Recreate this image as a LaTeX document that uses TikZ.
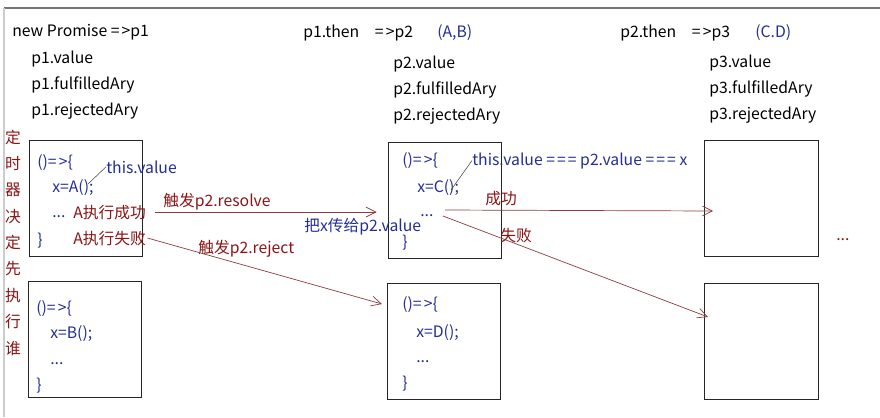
\documentclass[tikz,border=0pt]{standalone}
\usepackage{fontspec}
\setmainfont{Noto Sans CJK SC}
\usetikzlibrary{arrows.meta}
\definecolor{codeblue}{RGB}{35,45,150}
\definecolor{notered}{RGB}{140,20,20}
\definecolor{linkred}{RGB}{140,60,65}

\newcommand{\eqs}{=\kern1.5pt=\kern1.5pt=}
\newcommand{\arr}{=\kern1.5pt>}

\tikzset{
  lbl/.style={anchor=base west, inner sep=0pt, font=\fontsize{11.2}{13}\selectfont},
  code/.style={lbl, text=codeblue},
  note/.style={lbl, text=notered},
  codebox/.style={draw=black!85, line width=0.7pt, minimum width=2.83cm, minimum height=2.9cm, inner sep=0pt},
  link/.style={-{Straight Barb[length=7pt,width=7pt]}, draw=linkred, line width=0.5pt},
  ptr/.style={draw=black!70, line width=0.4pt},
}

\begin{document}
\begin{tikzpicture}[x=0.025cm, y=-0.025cm]
\useasboundingbox (0,0) rectangle (880,417);
\draw [black!55, line width=1pt] (4,8) -- (880,8);
\draw [black!20, line width=0.8pt] (4,8) -- (4,417);

% headers
\node[lbl] (p1head) at (12,36) {new Promise \arr p1};
\node[lbl] (p1val) at (31,63) {p1.value};
\node[lbl] (p1ful) at (31,89) {p1.fulfilledAry};
\node[lbl] (p1rej) at (31,115) {p1.rejectedAry};

\node[lbl] (p2head) at (303,37) {p1.then\hspace{1em}\arr p2};
\node[code] (p2args) at (437,37) {(A,B)};
\node[lbl] (p2val) at (393,68) {p2.value};
\node[lbl] (p2ful) at (393,94) {p2.fulfilledAry};
\node[lbl] (p2rej) at (393,120) {p2.rejectedAry};

\node[lbl] (p3head) at (620,37) {p2.then\hspace{1em}\arr p3};
\node[code] (p3args) at (755,37) {(C.D)};
\node[lbl] (p3val) at (709,67) {p3.value};
\node[lbl] (p3ful) at (709,93) {p3.fulfilledAry};
\node[lbl] (p3rej) at (709,119) {p3.rejectedAry};

% timer note
\foreach \c [count=\i from 0] in {定,时,器,决,定,先,执,行,谁}
  \node[text=notered, inner sep=0pt, font=\fontsize{11.2}{13}\selectfont] (timer\i) at (13,137+26.4*\i) {\c};

% boxes
\node[codebox] (boxA) at (86,198) {};
\node[codebox] (boxB) at (85,339) {};
\node[codebox] (boxC) at (445,200) {};
\node[codebox] (boxD) at (444,341) {};
\node[codebox] (boxE) at (761.5,198.5) {};
\node[codebox] (boxF) at (761.5,341) {};

% box A
\node[code] (a1) at (37,167) {()\arr\{};
\node[code] (a2) at (52,192) {x=A();};
\node[code] (a3) at (52,217) {...};
\node[code] (a4) at (37,245) {\}};
\node[code] (thisA) at (106,173) {this.value};
\coordinate (ptrA) at (88,184);
\draw[ptr] (ptrA) -- (thisA.west);
\node[note] (succA) at (73,218) {A执行成功};
\node[note] (failA) at (73,244) {A执行失败};

% box B
\node[code] (b1) at (36,313) {()\arr\{};
\node[code] (b2) at (50,338) {x=B();};
\node[code] (b3) at (50,364) {...};
\node[code] (b4) at (36,390) {\}};

% box C
\node[code] (c1) at (402,165) {()\arr\{};
\node[code] (c2) at (417,192) {x=C();};
\node[code] (c3) at (420,216) {...};
\node[code] (c4) at (402,247) {\}};
\node[code] (thisC) at (472,165) {this.value \eqs{} p2.value \eqs{} x};
\coordinate (ptrC) at (451,190);
\draw[ptr] (ptrC) -- (thisC.west);

% box D
\node[code] (d1) at (402,309) {()\arr\{};
\node[code] (d2) at (416,337) {x=D();};
\node[code] (d3) at (416,362) {...};
\node[code] (d4) at (402,388) {\}};

% links
\node[note] (resolveA) at (163,206) {触发p2.resolve};
\node[code] (passX) at (304,231) {把x传给p2.value};
\node[note] (rejectA) at (198,253) {触发p2.reject};
\coordinate (rejEnd) at (382,304);
\draw[link] ([xshift=6pt]succA.east) -- (succA.east -| boxC.west) [shorten >=8pt];
\draw[link] ([xshift=1pt]failA.east) -- (rejEnd);

\node[note] (okC) at (485,204) {成功};
\node[note] (koC) at (500,241) {失败};
\coordinate (okStart) at (445,210);
\coordinate (okEnd) at (713,211);
\coordinate (koStart) at (443,216);
\coordinate (koEnd) at (708,317);
\draw[link] (okStart) -- (okEnd);
\draw[link] (koStart) -- (koEnd);

\node[note] (more) at (836,240) {...};
\end{tikzpicture}
\end{document}
